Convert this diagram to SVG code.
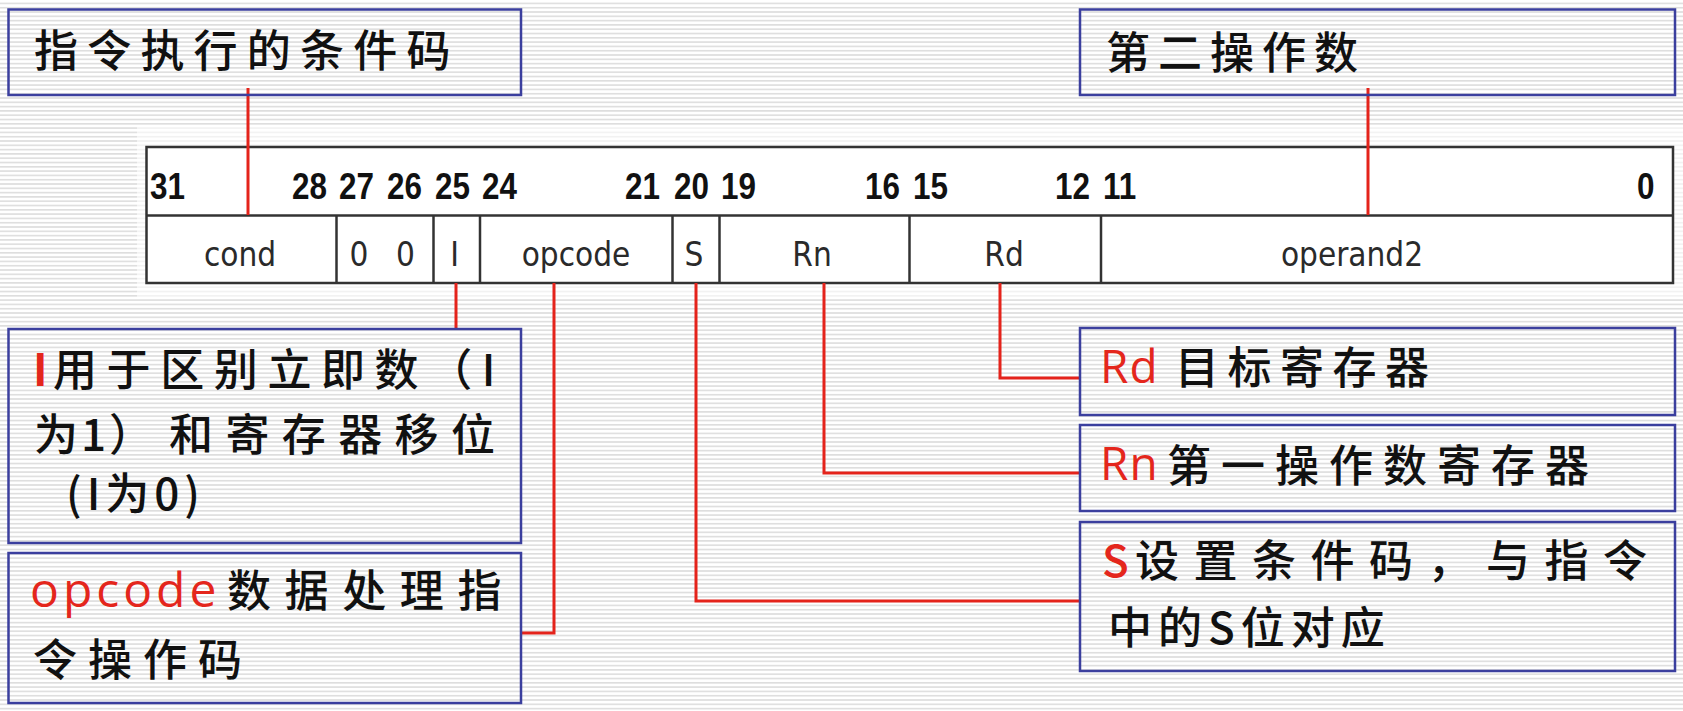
<svg xmlns="http://www.w3.org/2000/svg" width="1683" height="711" viewBox="0 0 1683 711">
<defs>
<pattern id="stripes" x="0" y="0" width="8" height="4.3" patternUnits="userSpaceOnUse">
<rect x="0" y="0" width="8" height="4.3" fill="#ffffff"/>
<rect x="0" y="2.6" width="8" height="1.6" fill="#dedede"/>
</pattern>
<style>
.box{fill:none;stroke:#3b3f9e;stroke-width:2.5}
.cjk{font-family:"Noto Sans CJK SC","Noto Sans",sans-serif;font-size:44px;font-weight:500;fill:#111}
.red{fill:#e4261c}
.lat{font-family:"Open Sans","Liberation Sans",sans-serif;font-weight:400}
.conn{stroke:#e4231b;stroke-width:3;fill:none}
.reg{fill:#ffffff;stroke:#333;stroke-width:2.5}
.rl{stroke:#333;stroke-width:2.5}
.num{font-family:"Liberation Sans",Arial,sans-serif;font-weight:bold;font-size:37px;fill:#111}
.fld{font-family:"DejaVu Sans Condensed","DejaVu Sans",sans-serif;font-stretch:condensed;font-size:33px;fill:#2a2a2a;text-anchor:middle}
</style>
</defs>
<rect x="0" y="0" width="1683" height="711" fill="url(#stripes)"/>
<rect x="137" y="127" width="1546" height="170" fill="#ffffff" opacity="0.6"/>

<g id="register">
<rect class="reg" x="146.5" y="147" width="1526.5" height="136"/>
<line class="rl" x1="146.5" y1="215.5" x2="1673" y2="215.5"/>
<line class="rl" x1="336.5" y1="215.5" x2="336.5" y2="283"/>
<line class="rl" x1="433.5" y1="215.5" x2="433.5" y2="283"/>
<line class="rl" x1="480" y1="215.5" x2="480" y2="283"/>
<line class="rl" x1="672.5" y1="215.5" x2="672.5" y2="283"/>
<line class="rl" x1="719.5" y1="215.5" x2="719.5" y2="283"/>
<line class="rl" x1="909.5" y1="215.5" x2="909.5" y2="283"/>
<line class="rl" x1="1101" y1="215.5" x2="1101" y2="283"/>
<text class="num" transform="translate(150,199) scale(0.85,1)">31</text>
<text class="num" transform="translate(292,199) scale(0.85,1)">28</text>
<text class="num" transform="translate(339,199) scale(0.85,1)">27</text>
<text class="num" transform="translate(387,199) scale(0.85,1)">26</text>
<text class="num" transform="translate(435,199) scale(0.85,1)">25</text>
<text class="num" transform="translate(482,199) scale(0.85,1)">24</text>
<text class="num" transform="translate(625,199) scale(0.85,1)">21</text>
<text class="num" transform="translate(674,199) scale(0.85,1)">20</text>
<text class="num" transform="translate(721,199) scale(0.85,1)">19</text>
<text class="num" transform="translate(865,199) scale(0.85,1)">16</text>
<text class="num" transform="translate(913,199) scale(0.85,1)">15</text>
<text class="num" transform="translate(1055,199) scale(0.85,1)">12</text>
<text class="num" transform="translate(1103,199) scale(0.85,1)">11</text>
<text class="num" transform="translate(1637,199) scale(0.85,1)">0</text>
<text class="fld" x="240" y="266">cond</text>
<text class="fld" x="359" y="266">0</text>
<text class="fld" x="405.5" y="266">0</text>
<text class="fld" x="454.5" y="266">I</text>
<text class="fld" x="576" y="266">opcode</text>
<text class="fld" x="694" y="266">S</text>
<text class="fld" x="812" y="266">Rn</text>
<text class="fld" x="1004" y="266">Rd</text>
<text class="fld" x="1352" y="266">operand2</text>
</g>

<g id="connectors">
<polyline class="conn" points="248,88 248,215"/>
<polyline class="conn" points="1368,88 1368,215"/>
<polyline class="conn" points="456,283 456,329"/>
<polyline class="conn" points="554,283 554,633 521,633"/>
<polyline class="conn" points="696,283 696,601 1080,601"/>
<polyline class="conn" points="824,283 824,473 1080,473"/>
<polyline class="conn" points="1000,283 1000,378 1080,378"/>
</g>

<g id="box-cond">
<rect class="box" x="8.5" y="9.5" width="512.5" height="85.5"/>
<text class="cjk" x="34" y="67" letter-spacing="9.2">指令执行的条件码</text>
</g>

<g id="box-operand2">
<rect class="box" x="1080" y="9.5" width="595" height="85.5"/>
<text class="cjk" x="1106" y="69" letter-spacing="8">第二操作数</text>
</g>

<g id="box-I">
<rect class="box" x="8.5" y="329" width="512.5" height="214"/>
<text class="cjk" y="386"><tspan x="33" class="red" font-weight="bold">I</tspan><tspan x="53" letter-spacing="9.6">用于区别立即数（I</tspan></text>
<text class="cjk" y="451"><tspan x="34" letter-spacing="3">为1）</tspan><tspan x="169" letter-spacing="12.4">和寄存器移位</tspan></text>
<text class="cjk" x="66" y="510" letter-spacing="5">(I为0)</text>
</g>

<g id="box-opcode">
<rect class="box" x="8.5" y="553" width="512.5" height="150"/>
<text class="cjk" y="607"><tspan x="30" class="red lat" font-size="48" letter-spacing="4">opcode</tspan><tspan x="227" letter-spacing="13.6">数据处理指</tspan></text>
<text class="cjk" x="33" y="676" letter-spacing="11">令操作码</text>
</g>

<g id="box-Rd">
<rect class="box" x="1080" y="328" width="595" height="87"/>
<text class="cjk" y="384"><tspan x="1100" y="383" class="red lat" font-size="46" letter-spacing="1">Rd</tspan><tspan x="1175" y="384" letter-spacing="8.5">目标寄存器</tspan></text>
</g>

<g id="box-Rn">
<rect class="box" x="1080" y="425" width="595" height="86"/>
<text class="cjk" y="482"><tspan x="1100" y="480" class="red lat" font-size="46" letter-spacing="1">Rn</tspan><tspan x="1167" y="482" letter-spacing="10">第一操作数寄存器</tspan></text>
</g>

<g id="box-S">
<rect class="box" x="1080" y="522" width="595" height="149"/>
<text class="cjk" y="577"><tspan x="1102" class="red">S</tspan><tspan x="1135" letter-spacing="14.5">设置条件码，与指令</tspan></text>
<text class="cjk" x="1108" y="644" letter-spacing="6">中的S位对应</text>
</g>
</svg>
